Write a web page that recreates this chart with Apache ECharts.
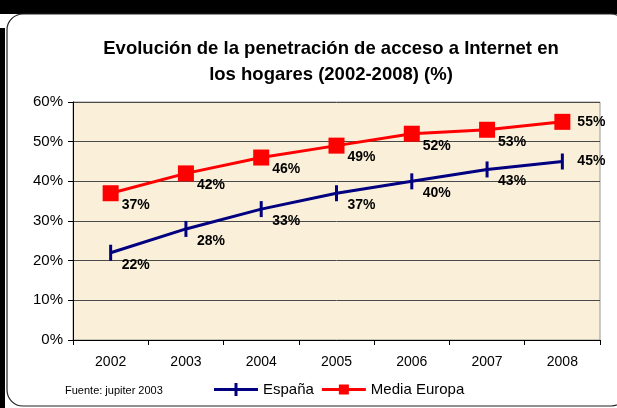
<!DOCTYPE html>
<html>
<head>
<meta charset="utf-8">
<script src="https://cdn.jsdelivr.net/npm/echarts@6/dist/echarts.min.js"></script>
<style>
  html, body { margin: 0; padding: 0; background: #fff; }
  #main { width: 617px; height: 408px; }
</style>
</head>
<body>
<div id="main"></div>
<script>
var years = ['2002', '2003', '2004', '2005', '2006', '2007', '2008'];
var espana = [22, 28, 33, 37, 40, 43, 45];
var europa = [37, 42, 46, 49, 52, 53, 55];

var myChart = echarts.init(document.getElementById('main'));

// last point of each line has its label to the right instead of below-right
function withLabels(values) {
    return values.map(function (v, i) {
        if (i === values.length - 1) {
            return { value: v, label: { offset: [29, 0] } };
        }
        return v;
    });
}

var labelStyle = {
    show: true,
    position: 'inside',
    offset: [25, 12],
    formatter: '{c}%',
    color: '#000',
    fontSize: 14,
    fontWeight: 'bold',
    fontFamily: 'Liberation Sans'
};

// legend icons: line with the marker drawn across it
var iconEspana = 'path://M0,5L20.5,5L20.5,0L23.5,0L23.5,5L44,5L44,8L23.5,8L23.5,13L20.5,13L20.5,8L0,8Z';
var iconEuropa = 'path://M0,5L17,5L17,1.5L27,1.5L27,5L44,5L44,8L27,8L27,11.5L17,11.5L17,8L0,8Z';

var option = {
    animation: false,
    textStyle: { fontFamily: 'Liberation Sans' },
    title: {
        text: 'Evolución de la penetración de acceso a Internet en\nlos hogares (2002-2008) (%)',
        left: 326,
        textAlign: 'center',
        top: 31,
        textStyle: {
            fontSize: 18.5,
            fontWeight: 'bold',
            color: '#000',
            lineHeight: 26,
            fontFamily: 'Liberation Sans'
        }
    },
    graphic: [
        { type: 'rect', shape: { x: 0, y: 0, width: 617, height: 14 }, style: { fill: '#000' }, z: -10 },
        { type: 'rect', shape: { x: 0, y: 28, width: 5, height: 380 }, style: { fill: '#000' }, z: -10 },
        {
            type: 'rect',
            shape: { x: 7, y: 14, width: 620, height: 392, r: 16 },
            style: { fill: '#fff', stroke: '#222', lineWidth: 1.2 },
            z: -9
        },
        {
            type: 'text',
            left: 65,
            top: 385,
            style: { text: 'Fuente: jupiter 2003', fontSize: 11, fill: '#000', fontFamily: 'Liberation Sans' }
        }
    ],
    legend: {
        left: 209,
        top: 377,
        itemWidth: 44,
        itemHeight: 13,
        itemGap: 8,
        textStyle: { fontSize: 15, color: '#000' },
        data: [
            { name: 'España', icon: iconEspana },
            { name: 'Media Europa', icon: iconEuropa }
        ]
    },
    grid: {
        left: 73,
        right: 17,
        top: 102,
        bottom: 68,
        show: true,
        backgroundColor: '#faefd8',
        borderColor: '#999',
        borderWidth: 1
    },
    xAxis: {
        type: 'category',
        data: years,
        boundaryGap: true,
        axisLine: { lineStyle: { color: '#000', width: 1 } },
        axisTick: { show: true, length: 5, lineStyle: { color: '#000' } },
        axisLabel: { color: '#000', fontSize: 14, margin: 15 },
        splitLine: { show: false }
    },
    yAxis: {
        type: 'value',
        min: 0,
        max: 60,
        interval: 10,
        axisLine: { show: true, lineStyle: { color: '#000', width: 1 } },
        axisTick: { show: true, length: 5, lineStyle: { color: '#000' } },
        axisLabel: { formatter: '{value}%', color: '#000', fontSize: 15, margin: 10 },
        splitLine: { show: true, lineStyle: { color: '#4a4a4a', width: 1 } }
    },
    series: [
        {
            name: 'España',
            type: 'line',
            data: withLabels(espana),
            color: '#000080',
            lineStyle: { width: 3, color: '#000080' },
            symbol: 'rect',
            symbolSize: [3, 16],
            itemStyle: { color: '#000080' },
            label: labelStyle,
            z: 3
        },
        {
            name: 'Media Europa',
            type: 'line',
            data: withLabels(europa),
            color: '#ff0000',
            lineStyle: { width: 3, color: '#ff0000' },
            symbol: 'rect',
            symbolSize: 16,
            itemStyle: { color: '#ff0000' },
            label: labelStyle,
            z: 3
        }
    ]
};
myChart.setOption(option);
</script>
</body>
</html>
